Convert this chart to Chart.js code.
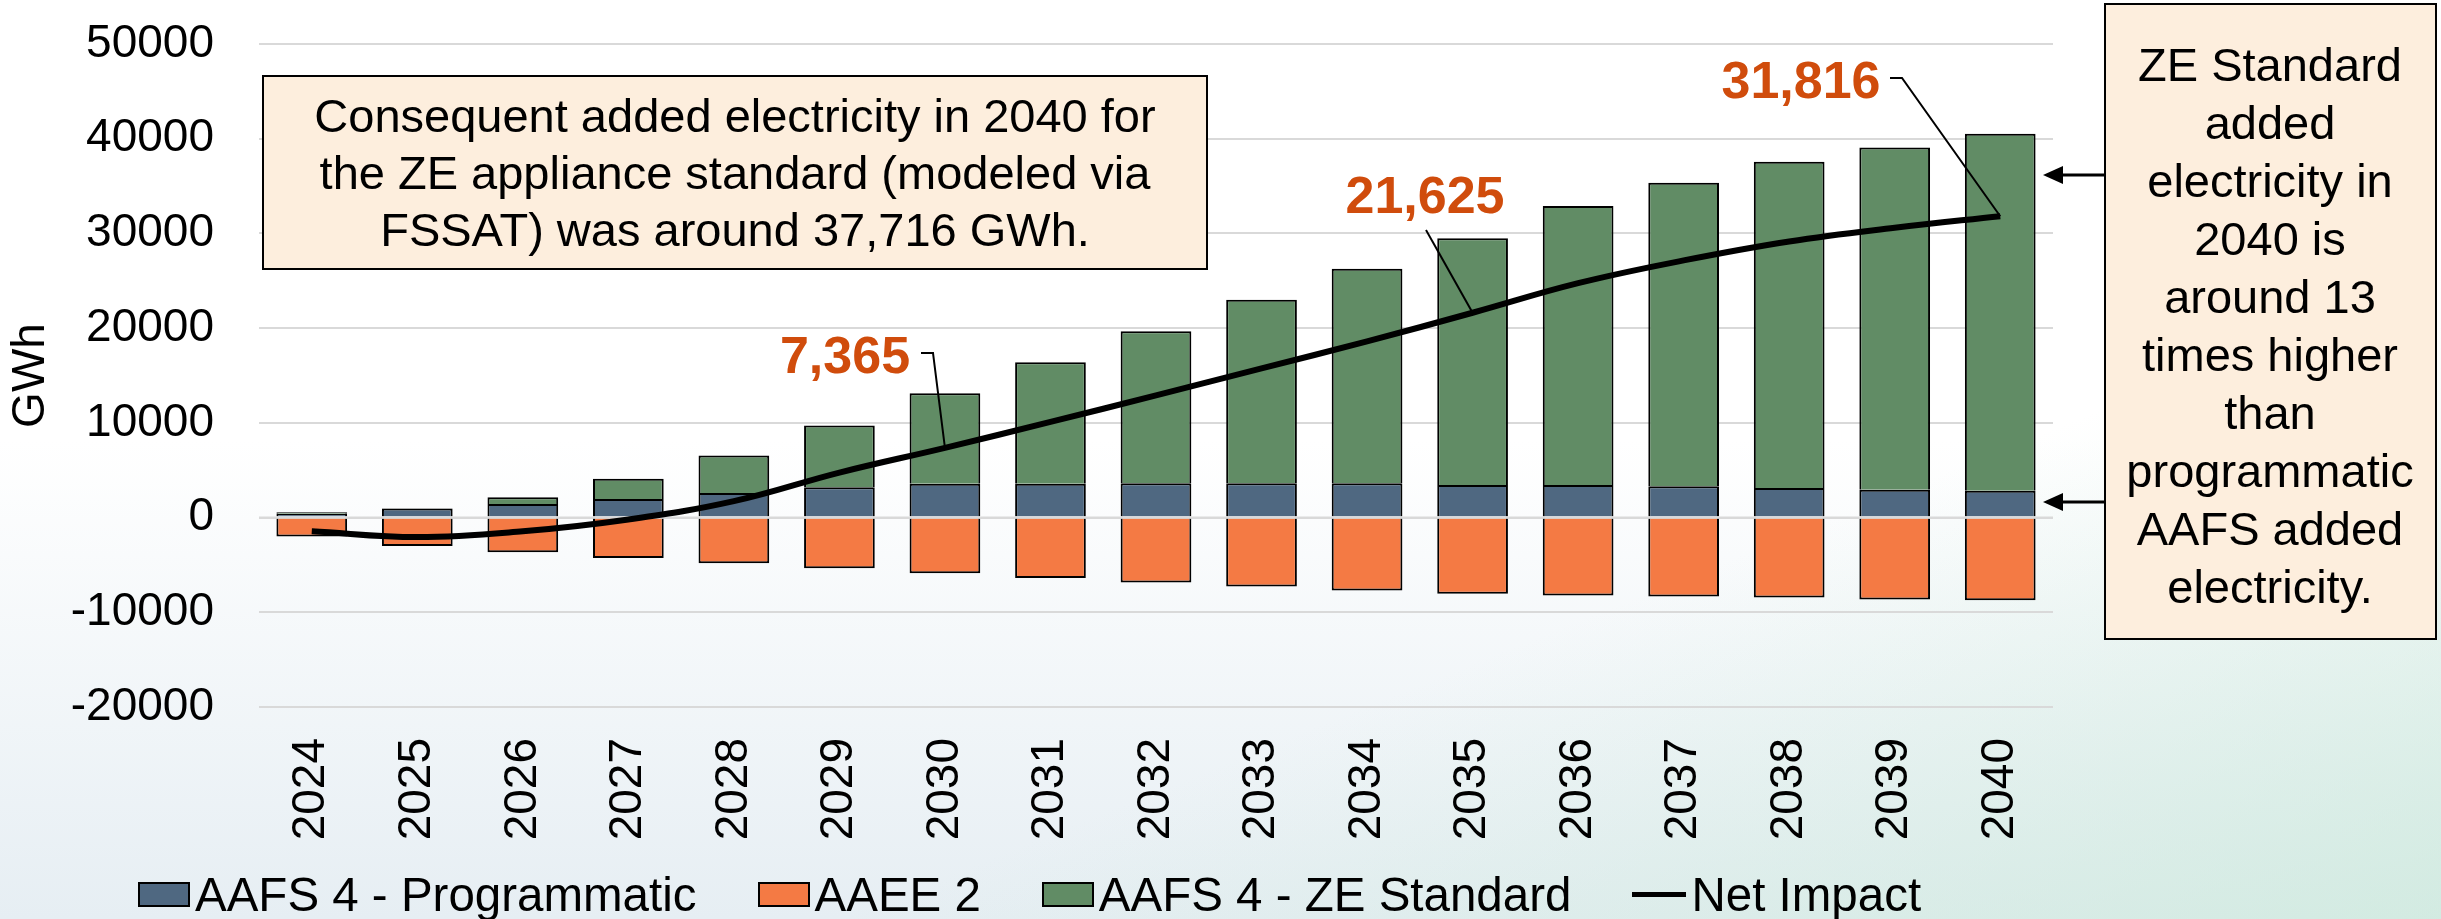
<!DOCTYPE html>
<html>
<head>
<meta charset="utf-8">
<script src="https://cdn.jsdelivr.net/npm/chart.js@4.4.0/dist/chart.umd.min.js"></script>
<style>
  html, body { margin: 0; padding: 0; }
  body {
    width: 2441px; height: 919px; position: relative; overflow: hidden;
    font-family: "Liberation Sans", Arial, sans-serif;
    background:
      linear-gradient(158deg, rgba(255,255,255,0) 66%, rgba(200,233,216,0.65) 100%),
      linear-gradient(180deg, #ffffff 0%, #ffffff 48%, #e6eef3 100%);
  }
  #chart { position: absolute; left: 0; top: 0; }
  #legend {
    position: absolute; left: 138px; top: 871px;
    display: flex; align-items: center; gap: 61px;
    font-size: 47.5px; line-height: 47px; color: #000; white-space: nowrap;
  }
  .item { display: flex; align-items: center; gap: 5px; }
  .swatch { width: 48px; height: 21px; border: 2px solid #000; }
  .stroke { width: 54px; height: 5px; background: #000; }
</style>
</head>
<body>
<canvas id="chart" width="2441" height="919"></canvas>
<div id="legend"></div>
<script>
// donnees (GWh)
const years = ['2024', '2025', '2026', '2027', '2028', '2029', '2030', '2031', '2032',
               '2033', '2034', '2035', '2036', '2037', '2038', '2039', '2040'];
const programmatic = [400, 950, 1440, 1970, 2600, 3200, 3560, 3560, 3630,
                      3630, 3630, 3450, 3450, 3300, 3110, 2950, 2820];
const aaee = [-2000, -2990, -3660, -4260, -4820, -5350, -5880, -6370, -6860,
              -7280, -7700, -8030, -8240, -8340, -8450, -8660, -8720];
const zeStandard = [150, 40, 700, 2120, 3950, 6515, 9570, 12840, 16040,
                    19360, 22630, 26040, 29450, 32060, 34470, 36110, 37716];
const netImpact = [-1440, -2060, -1450, -200, 1730, 4750, 7365, 10100, 12900,
                   15750, 18600, 21625, 24750, 27150, 29150, 30600, 31816];
const yTicks = [-20000, -10000, 0, 10000, 20000, 30000, 40000, 50000];

const seriesNames = ['AAFS 4 - Programmatic', 'AAEE 2', 'AAFS 4 - ZE Standard', 'Net Impact'];
const seriesColors = ['#4f6881', '#f47a44', '#618c65', '#000000'];

// annotations
const calloutYears = ['2030', '2035', '2040'];
const noteLeft = ['Consequent added electricity in 2040 for',
                  'the ZE appliance standard (modeled via',
                  'FSSAT) was around 37,716 GWh.'];
const noteRight = ['ZE Standard', 'added', 'electricity in', '2040 is', 'around 13',
                   'times higher', 'than', 'programmatic', 'AAFS added', 'electricity.'];

const FONT = '"Liberation Sans", Arial, sans-serif';

function drawBox(ctx, x, y, w, h) {
    ctx.fillStyle = '#fdeedd';
    ctx.fillRect(x, y, w, h);
    ctx.strokeStyle = '#000';
    ctx.lineWidth = 2;
    ctx.strokeRect(x, y, w, h);
}

function drawArrow(ctx, xFrom, xTip, y) {
    ctx.strokeStyle = '#000';
    ctx.fillStyle = '#000';
    ctx.lineWidth = 3;
    ctx.beginPath();
    ctx.moveTo(xFrom, y);
    ctx.lineTo(xTip + 16, y);
    ctx.stroke();
    ctx.beginPath();
    ctx.moveTo(xTip, y);
    ctx.lineTo(xTip + 20, y - 9);
    ctx.lineTo(xTip + 20, y + 9);
    ctx.closePath();
    ctx.fill();
}

const overlay = {
    id: 'overlay',
    // ligne du zero par dessus les barres, sous la courbe
    beforeDatasetDraw(chart, args) {
        if (args.meta.type !== 'line') return;
        const {ctx, chartArea, scales} = chart;
        const y0 = scales.y.getPixelForValue(0);
        ctx.save();
        ctx.strokeStyle = '#d9d9d9';
        ctx.lineWidth = 2;
        ctx.beginPath();
        ctx.moveTo(chartArea.left, y0);
        ctx.lineTo(chartArea.right, y0);
        ctx.stroke();
        ctx.restore();
    },
    afterDraw(chart) {
        const {ctx, scales} = chart;
        ctx.save();

        // valeurs du net impact avec traits de rappel
        const spots = [
            {tx: 845, ty: 373, lead: [[921, 353], [933, 353]]},
            {tx: 1425, ty: 213, lead: [[1426, 230]]},
            {tx: 1801, ty: 98, lead: [[1890, 78], [1902, 78]]}
        ];
        calloutYears.forEach((yr, i) => {
            const idx = years.indexOf(yr);
            const px = scales.x.getPixelForValue(idx);
            const py = scales.y.getPixelForValue(netImpact[idx]);
            const s = spots[i];
            ctx.strokeStyle = '#000';
            ctx.lineWidth = 2;
            ctx.beginPath();
            ctx.moveTo(s.lead[0][0], s.lead[0][1]);
            s.lead.slice(1).forEach(p => ctx.lineTo(p[0], p[1]));
            ctx.lineTo(px, py);
            ctx.stroke();
            ctx.fillStyle = '#d04c0c';
            ctx.font = 'bold 52px ' + FONT;
            ctx.textAlign = 'center';
            ctx.textBaseline = 'alphabetic';
            ctx.fillText(netImpact[idx].toLocaleString('en-US'), s.tx, s.ty);
        });

        // encadre de gauche
        drawBox(ctx, 263, 76, 944, 193);
        ctx.fillStyle = '#000';
        ctx.font = '47px ' + FONT;
        ctx.textAlign = 'center';
        noteLeft.forEach((line, i) => ctx.fillText(line, 735, 132 + i * 57));

        // encadre de droite + fleches
        drawBox(ctx, 2105, 4, 331, 635);
        ctx.fillStyle = '#000';
        noteRight.forEach((line, i) => ctx.fillText(line, 2270, 81 + i * 58));
        drawArrow(ctx, 2105, 2043, 175);
        drawArrow(ctx, 2105, 2043, 502);

        ctx.restore();
    }
};

Chart.defaults.color = '#000';
Chart.defaults.font.family = FONT;

const chart = new Chart(document.getElementById('chart'), {
    type: 'bar',
    data: {
        labels: years,
        datasets: [
            {
                type: 'line', label: seriesNames[3], data: netImpact,
                borderColor: seriesColors[3], borderWidth: 6, pointRadius: 0,
                tension: 0.4, fill: false, stack: 'net', order: 0
            },
            {
                label: seriesNames[0], data: programmatic, backgroundColor: seriesColors[0],
                borderColor: '#000', borderWidth: 2, stack: 'bars', order: 1
            },
            {
                label: seriesNames[1], data: aaee, backgroundColor: seriesColors[1],
                borderColor: '#000', borderWidth: 2, stack: 'bars', order: 1
            },
            {
                label: seriesNames[2], data: zeStandard, backgroundColor: seriesColors[2],
                borderColor: '#000', borderWidth: 2, stack: 'bars', order: 1
            }
        ]
    },
    options: {
        responsive: false,
        animation: false,
        devicePixelRatio: 1,
        layout: {padding: {left: 0, top: 44, right: 388, bottom: 62}},
        datasets: {bar: {categoryPercentage: 1, barPercentage: 0.67}},
        plugins: {legend: {display: false}, tooltip: {enabled: false}},
        scales: {
            x: {
                stacked: true,
                grid: {display: false, drawTicks: false},
                border: {display: false},
                ticks: {
                    autoSkip: false, minRotation: 90, maxRotation: 90,
                    padding: 31, font: {size: 46}
                },
                afterFit: scale => { scale.height = 150; }
            },
            y: {
                stacked: true,
                min: yTicks[0],
                max: yTicks[yTicks.length - 1],
                grid: {color: '#d9d9d9', lineWidth: 2, drawTicks: false},
                border: {display: false},
                ticks: {
                    stepSize: yTicks[1] - yTicks[0], padding: 45, font: {size: 46},
                    callback: v => String(v)
                },
                title: {display: true, text: 'GWh', font: {size: 46}, padding: {top: 4, bottom: 0}},
                // largeur fixe, et pas de marge haute/basse ajoutee par le padding des ticks
                afterFit: scale => {
                    scale.width = 259;
                    scale.paddingTop = 0;
                    scale.paddingBottom = 0;
                }
            }
        }
    },
    plugins: [overlay]
});

// legende en html
const legend = document.getElementById('legend');
seriesNames.forEach((name, i) => {
    const item = document.createElement('div');
    item.className = 'item';
    const mark = document.createElement('div');
    if (i === 3) {
        mark.className = 'stroke';
    } else {
        mark.className = 'swatch';
        mark.style.background = seriesColors[i];
    }
    const txt = document.createElement('span');
    txt.textContent = name;
    item.appendChild(mark);
    item.appendChild(txt);
    legend.appendChild(item);
});
</script>
</body>
</html>
